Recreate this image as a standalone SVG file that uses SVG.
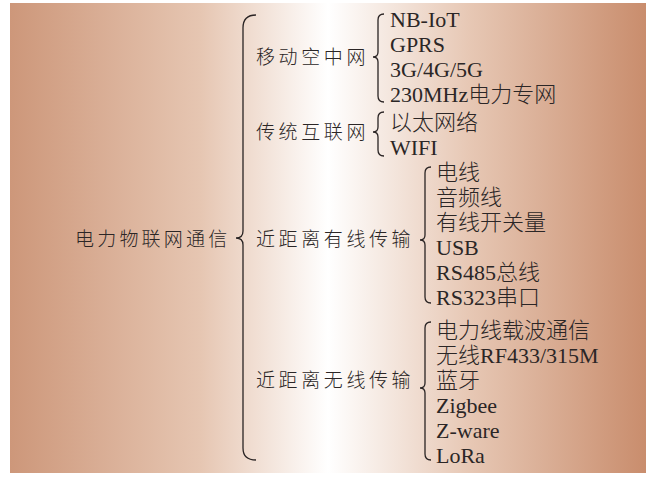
<svg xmlns="http://www.w3.org/2000/svg" width="651" height="477" viewBox="0 0 651 477">
<defs>
<linearGradient id="bg" x1="10" y1="0" x2="646" y2="0" gradientUnits="userSpaceOnUse">
<stop offset="0" stop-color="#cd977a"/>
<stop offset="0.3" stop-color="#e6c6b2"/>
<stop offset="0.5" stop-color="#ffffff"/>
<stop offset="0.72" stop-color="#e7c8b5"/>
<stop offset="1" stop-color="#c98d6d"/>
</linearGradient>
<style>
.t{font-family:"Liberation Serif","Noto Sans CJK SC",serif;fill:#2b2626;font-weight:300;}
.root{font-size:19px;letter-spacing:3.2px;}
.l2{font-size:19px;letter-spacing:3.6px;}
.leaf{font-size:22px;}
.br{fill:none;stroke:#2a2424;stroke-width:1.3;}
</style>
</defs>
<rect x="10" y="3" width="636" height="470" fill="url(#bg)"/>
<g id="connectors">
<path class="br" d="M256,15 Q243,15 243,28 L243,231 Q243,238 236,238 Q243,238 243,245 L243,448 Q243,460 256,460"/>
<path class="br" d="M384,14 Q378,14 378,20 L378,52 Q378,57 373,57 Q378,57 378,62 L378,96 Q378,102 384,102"/>
<path class="br" d="M384,112 Q378,112 378,118 L378,127 Q378,132 373,132 Q378,132 378,137 L378,150 Q378,156 384,156"/>
<path class="br" d="M431,167 Q425,167 425,173 L425,235 Q425,240 420,240 Q425,240 425,245 L425,297 Q425,303 431,303"/>
<path class="br" d="M431,322 Q425,322 425,328 L425,383 Q425,388 420,388 Q425,388 425,393 L425,454 Q425,460 431,460"/>
</g>
<g id="root"><text class="t root" x="75" y="246">电力物联网通信</text></g>
<g id="n-mobile"><text class="t l2" x="256" y="64">移动空中网</text></g>
<g id="n-internet"><text class="t l2" x="256" y="139">传统互联网</text></g>
<g id="n-wired"><text class="t l2" x="256" y="246">近距离有线传输</text></g>
<g id="n-wireless"><text class="t l2" x="256" y="387">近距离无线传输</text></g>
<g id="leaves-mobile" class="t leaf">
<text x="390" y="27">NB-IoT</text>
<text x="390" y="52">GPRS</text>
<text x="390" y="77">3G/4G/5G</text>
<text x="390" y="102">230MHz电力专网</text>
</g>
<g id="leaves-internet" class="t leaf">
<text x="390" y="130">以太网络</text>
<text x="390" y="155">WIFI</text>
</g>
<g id="leaves-wired" class="t leaf">
<text x="436" y="180">电线</text>
<text x="436" y="205">音频线</text>
<text x="436" y="230">有线开关量</text>
<text x="436" y="255">USB</text>
<text x="436" y="280">RS485总线</text>
<text x="436" y="305">RS323串口</text>
</g>
<g id="leaves-wireless" class="t leaf">
<text x="436" y="338">电力线载波通信</text>
<text x="436" y="363">无线RF433/315M</text>
<text x="436" y="388">蓝牙</text>
<text x="436" y="413">Zigbee</text>
<text x="436" y="438">Z-ware</text>
<text x="436" y="463">LoRa</text>
</g>
</svg>
